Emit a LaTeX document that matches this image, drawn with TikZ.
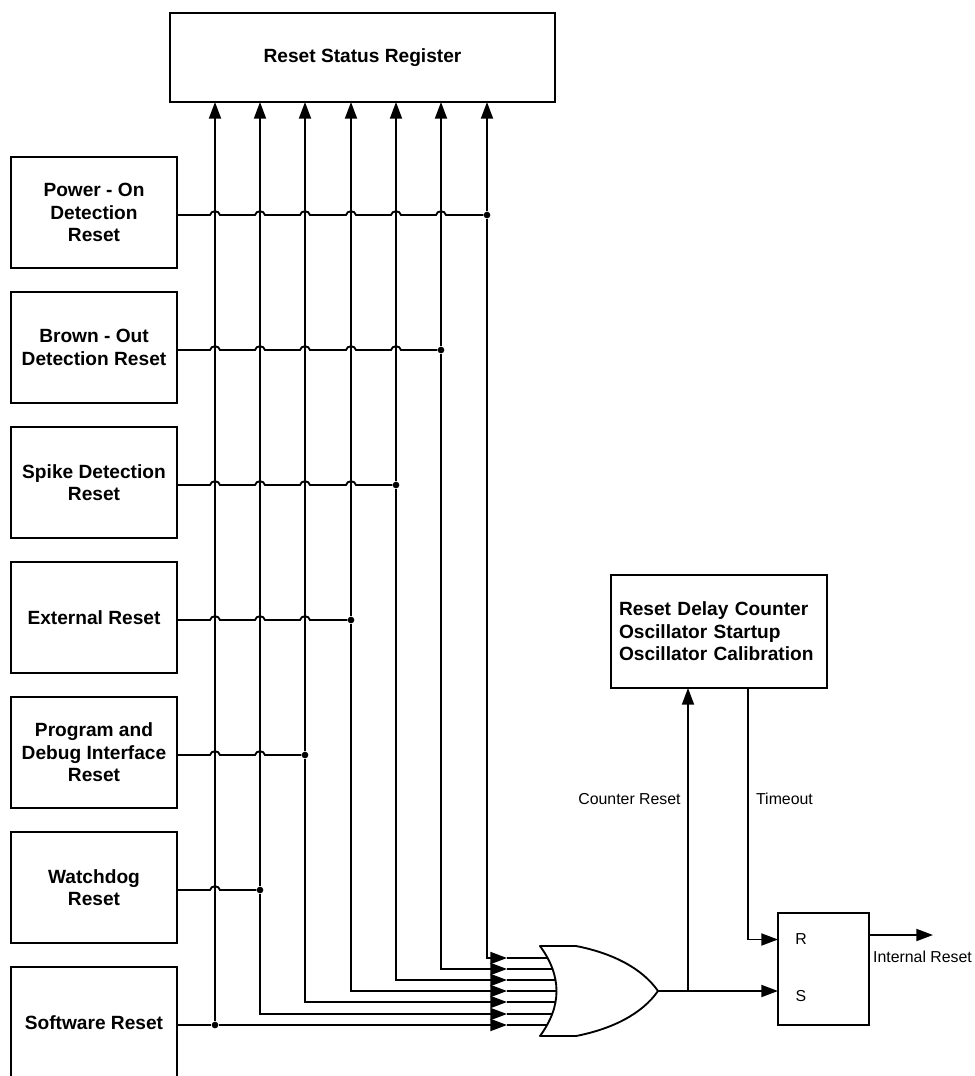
\documentclass[tikz,border=0pt]{standalone}
\usepackage{fontspec}
\setmainfont{Liberation Sans}
\usetikzlibrary{arrows.meta}
\newcommand{\hop}[2]{-- (#1-5,#2) .. controls (#1-4,#2-5) and (#1+4,#2-5) .. (#1+5,#2)}
\tikzset{
  wire/.style={line width=1.4pt},
  arrowwire/.style={wire, -{Triangle[length=12.5pt,width=9pt]}},
  srcbox/.style={draw, line width=1.4pt, outer sep=0pt, minimum width=124.5pt, minimum height=83.25pt, align=center, font=\fontsize{14.35}{16.9}\selectfont\bfseries},
  dot/.style={circle, fill, inner sep=0pt, minimum size=5pt},
  sig/.style={font=\fontsize{11.9}{14}\selectfont, inner sep=0pt}
}
\begin{document}
\begin{tikzpicture}[x=0.75pt,y=-0.75pt]
\path[use as bounding box, clip] (0,0) rectangle (975,1076);
% sources
\node[srcbox] (pwr) at (94,212.5){Power - On\\Detection\\Reset};
\node[srcbox] (bod) at (94,347.5){Brown - Out\\Detection Reset};
\node[srcbox] (spk) at (94,482.5){Spike Detection\\Reset};
\node[srcbox] (ext) at (94,617.5){External Reset};
\node[srcbox] (pdi) at (94,752.5){Program and\\Debug Interface\\Reset};
\node[srcbox] (wdg) at (94,887.5){Watchdog\\Reset};
\node[srcbox] (sft) at (94,1022.5){Software Reset};
\node[srcbox, minimum width=288.75pt, minimum height=66.75pt] (reg) at (362.5,57.5){Reset Status Register};
\node[srcbox, align=left, text width=150pt, inner xsep=6pt, minimum height=84.75pt] (dly) at (719,631.5){Reset Delay Counter\\Oscillator Startup\\Oscillator Calibration};
\node[srcbox, minimum width=68.25pt, minimum height=84pt] (rs) at (823.5,969){};
\node[sig] (rlab) at (801,939.5){R};
\node[sig] (slab) at (801,996){S};
% junctions
\node[dot] (j0) at (487,215){};
\node[dot] (j1) at (441,350){};
\node[dot] (j2) at (396,485){};
\node[dot] (j3) at (351,620){};
\node[dot] (j4) at (305,755){};
\node[dot] (j5) at (260,890){};
\node[dot] (j6) at (215,1025){};
% gate inputs
\coordinate (a0) at (507,958);
\coordinate (a1) at (507,969);
\coordinate (a2) at (507,980);
\coordinate (a3) at (507,991);
\coordinate (a4) at (507,1002);
\coordinate (a5) at (507,1014);
\coordinate (a6) at (507,1025);
\coordinate (b0) at (560,958);
\coordinate (b1) at (560,969);
\coordinate (b2) at (560,980);
\coordinate (b3) at (560,991);
\coordinate (b4) at (560,1002);
\coordinate (b5) at (560,1014);
\coordinate (b6) at (560,1025);
% up to the register
\draw[arrowwire] (j0) -- (j0 |- reg.south);
\draw[arrowwire] (j1) -- (j1 |- reg.south);
\draw[arrowwire] (j2) -- (j2 |- reg.south);
\draw[arrowwire] (j3) -- (j3 |- reg.south);
\draw[arrowwire] (j4) -- (j4 |- reg.south);
\draw[arrowwire] (j5) -- (j5 |- reg.south);
\draw[arrowwire] (j6) -- (j6 |- reg.south);
% down to the gate
\draw[arrowwire] (j0) |- (a0);
\draw[arrowwire] (j1) |- (a1);
\draw[arrowwire] (j2) |- (a2);
\draw[arrowwire] (j3) |- (a3);
\draw[arrowwire] (j4) |- (a4);
\draw[arrowwire] (j5) |- (a5);
\draw[arrowwire] (j6) -- (a6);
\draw[wire] (a0) -- (b0);
\draw[wire] (a1) -- (b1);
\draw[wire] (a2) -- (b2);
\draw[wire] (a3) -- (b3);
\draw[wire] (a4) -- (b4);
\draw[wire] (a5) -- (b5);
\draw[wire] (a6) -- (b6);
% from the sources
\draw[wire] (pwr.east |- j0) \hop{215}{215} \hop{260}{215} \hop{305}{215} \hop{351}{215} \hop{396}{215} \hop{441}{215} -- (j0);
\draw[wire] (bod.east |- j1) \hop{215}{350} \hop{260}{350} \hop{305}{350} \hop{351}{350} \hop{396}{350} -- (j1);
\draw[wire] (spk.east |- j2) \hop{215}{485} \hop{260}{485} \hop{305}{485} \hop{351}{485} -- (j2);
\draw[wire] (ext.east |- j3) \hop{215}{620} \hop{260}{620} \hop{305}{620} -- (j3);
\draw[wire] (pdi.east |- j4) \hop{215}{755} \hop{260}{755} -- (j4);
\draw[wire] (wdg.east |- j5) \hop{215}{890} -- (j5);
\draw[wire] (sft.east |- j6) -- (j6);
% gate
\coordinate (gout) at (658,991);
\draw[wire, fill=white, line join=round] (540,946) -- (576,946) .. controls (612,953) and (642,968) .. (gout) .. controls (642,1014) and (612,1029) .. (576,1036) -- (540,1036) .. controls (562,1006) and (562,976) .. (540,946) -- cycle;
% output side
\coordinate (tap) at (688,991);
\coordinate (tmo) at (748,688);
\draw[arrowwire] (gout) -- (gout -| rs.west);
\draw[arrowwire] (tap) -- (tap |- dly.south);
\draw[arrowwire] (dly.south -| tmo) |- (rs.west |- rlab);
\coordinate (outend) at (933,935);
\draw[arrowwire] (rs.east |- outend) -- (outend);
\node[sig] (cntlab) at (629.5,799){Counter Reset};
\node[sig] (tmolab) at (784.5,799){Timeout};
\node[sig] (outlab) at (922.5,956.5){Internal Reset};
\end{tikzpicture}
\end{document}
